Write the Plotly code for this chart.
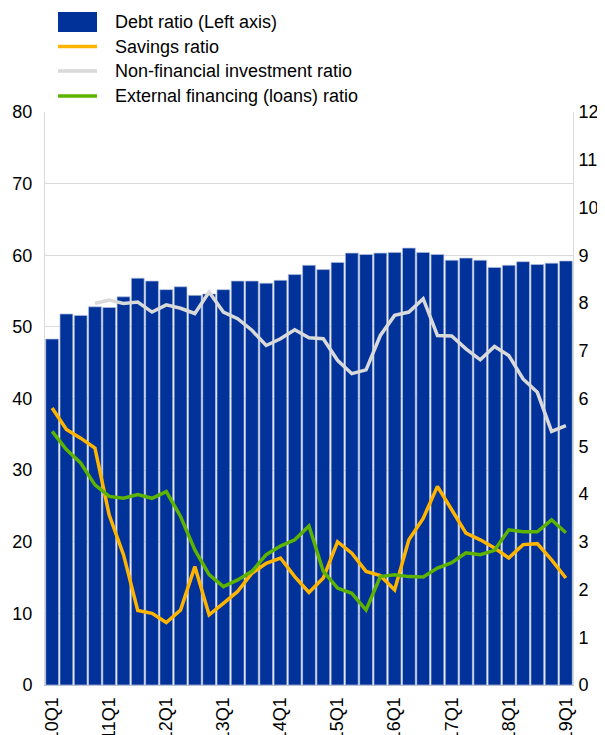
import plotly.graph_objects as go

quarters = ["10Q1", "10Q2", "10Q3", "10Q4", "11Q1", "11Q2", "11Q3", "11Q4",
            "12Q1", "12Q2", "12Q3", "12Q4", "13Q1", "13Q2", "13Q3", "13Q4",
            "14Q1", "14Q2", "14Q3", "14Q4", "15Q1", "15Q2", "15Q3", "15Q4",
            "16Q1", "16Q2", "16Q3", "16Q4", "17Q1", "17Q2", "17Q3", "17Q4",
            "18Q1", "18Q2", "18Q3", "18Q4", "19Q1"]
tick_labels = ["10Q1", "11Q1", "12Q1", "13Q1", "14Q1", "15Q1", "16Q1", "17Q1", "18Q1", "19Q1"]

debt_ratio = [48.3, 51.8, 51.6, 52.8, 52.7, 54.2, 56.8, 56.4, 55.2, 55.6,
              54.4, 54.6, 55.2, 56.4, 56.4, 56.1, 56.5, 57.3, 58.6, 58.0,
              59.0, 60.3, 60.1, 60.3, 60.4, 61.0, 60.4, 60.1, 59.3, 59.6,
              59.3, 58.3, 58.6, 59.1, 58.7, 58.9, 59.2]
savings_ratio = [5.80, 5.35, 5.17, 4.96, 3.56, 2.73, 1.56, 1.50, 1.31, 1.57,
                 2.48, 1.47, 1.71, 1.96, 2.34, 2.55, 2.66, 2.27, 1.94, 2.24,
                 3.00, 2.76, 2.38, 2.29, 1.99, 3.04, 3.49, 4.16, 3.67, 3.18,
                 3.04, 2.87, 2.66, 2.94, 2.96, 2.62, 2.24]
investment_ratio = [None, None, None, 7.99, 8.06, 7.99, 8.02, 7.81, 7.96, 7.89,
                    7.78, 8.23, 7.81, 7.67, 7.43, 7.11, 7.25, 7.44, 7.27, 7.25,
                    6.80, 6.52, 6.60, 7.32, 7.74, 7.81, 8.09, 7.32, 7.31, 7.04,
                    6.81, 7.09, 6.90, 6.41, 6.13, 5.31, 5.43]
financing_ratio = [5.31, 4.93, 4.65, 4.19, 3.95, 3.91, 3.99, 3.91, 4.05, 3.53,
                   2.83, 2.31, 2.06, 2.20, 2.38, 2.73, 2.91, 3.04, 3.33, 2.38,
                   2.03, 1.92, 1.57, 2.27, 2.31, 2.27, 2.26, 2.45, 2.56, 2.77,
                   2.73, 2.82, 3.25, 3.21, 3.21, 3.46, 3.19]

series_names = ["Debt ratio (Left axis)", "Savings ratio",
                "Non-financial investment ratio", "External financing (loans) ratio"]

BLUE = "#003299"
ORANGE = "#FFB400"
GREY = "#D9D9D9"
GREEN = "#5DB300"
FONT = "Arial, Liberation Sans, sans-serif"

fig = go.Figure()
fig.add_trace(go.Bar(x=quarters, y=debt_ratio, name=series_names[0],
                     marker=dict(color=BLUE, line=dict(color="#b4c0dc", width=0.7)),
                     yaxis="y", showlegend=False))
fig.add_trace(go.Scatter(x=quarters, y=savings_ratio, name=series_names[1], mode="lines",
                         line=dict(color=ORANGE, width=3.5), yaxis="y2", showlegend=False))
fig.add_trace(go.Scatter(x=quarters, y=investment_ratio, name=series_names[2], mode="lines",
                         line=dict(color=GREY, width=3.5), yaxis="y2", showlegend=False))
fig.add_trace(go.Scatter(x=quarters, y=financing_ratio, name=series_names[3], mode="lines",
                         line=dict(color=GREEN, width=3.5), yaxis="y2", showlegend=False))

# page offset of the figure (default body margin) -> compensate
OFF = 8
W, H = 605 - OFF, 735 - OFF
L, T = 45 - OFF, 112 - OFF
R = W - (573 - OFF)
B = H - (685 - OFF)
pw, ph = W - L - R, H - T - B
def px(x):
    return (x - OFF - L) / pw
def py(y):
    return (H - B - (y - OFF)) / ph

shapes = []
annotations = []
rows = [22, 46.5, 71, 96]
colors = [BLUE, ORANGE, GREY, GREEN]
for i, (yc, c, name) in enumerate(zip(rows, colors, series_names)):
    if i == 0:
        shapes.append(dict(type="rect", xref="paper", yref="paper",
                           x0=px(58), x1=px(97), y0=py(yc + 10), y1=py(yc - 10),
                           fillcolor=c, line=dict(width=0)))
    else:
        shapes.append(dict(type="line", xref="paper", yref="paper",
                           x0=px(58), x1=px(97), y0=py(yc), y1=py(yc),
                           line=dict(color=c, width=3.5)))
    annotations.append(dict(text=name, xref="paper", yref="paper", x=px(113), y=py(yc),
                            xanchor="left", yanchor="middle", showarrow=False,
                            font=dict(family=FONT, size=18, color="#000000")))

fig.update_layout(
    width=W, height=H,
    margin=dict(l=L, r=R, t=T, b=B, pad=0, autoexpand=False),
    paper_bgcolor="white", plot_bgcolor="white",
    font=dict(family=FONT, size=18, color="#000000"),
    bargap=0.1,
    shapes=shapes, annotations=annotations,
    xaxis=dict(type="category", range=[-0.5, len(quarters) - 0.5],
               tickmode="array", tickvals=tick_labels, ticktext=tick_labels,
               tickangle=-90, ticks="", ticklabelstandoff=4, automargin=False,
               showline=True, linecolor="#b8c2d8", linewidth=1, showgrid=False,
               tickfont=dict(size=18)),
    yaxis=dict(range=[0, 80], dtick=10, showgrid=True, gridcolor="#d9d9d9", gridwidth=1,
               showline=True, linecolor="#d9d9d9", linewidth=1, ticks="",
               ticklabelstandoff=8, zeroline=False, automargin=False, tickfont=dict(size=18)),
    yaxis2=dict(range=[0, 12], dtick=1, overlaying="y", side="right", showgrid=False,
                showline=True, linecolor="#d9d9d9", linewidth=1, ticks="",
                ticklabelstandoff=1, zeroline=False, automargin=False, tickfont=dict(size=18)),
)

fig.write_html("out.html")
